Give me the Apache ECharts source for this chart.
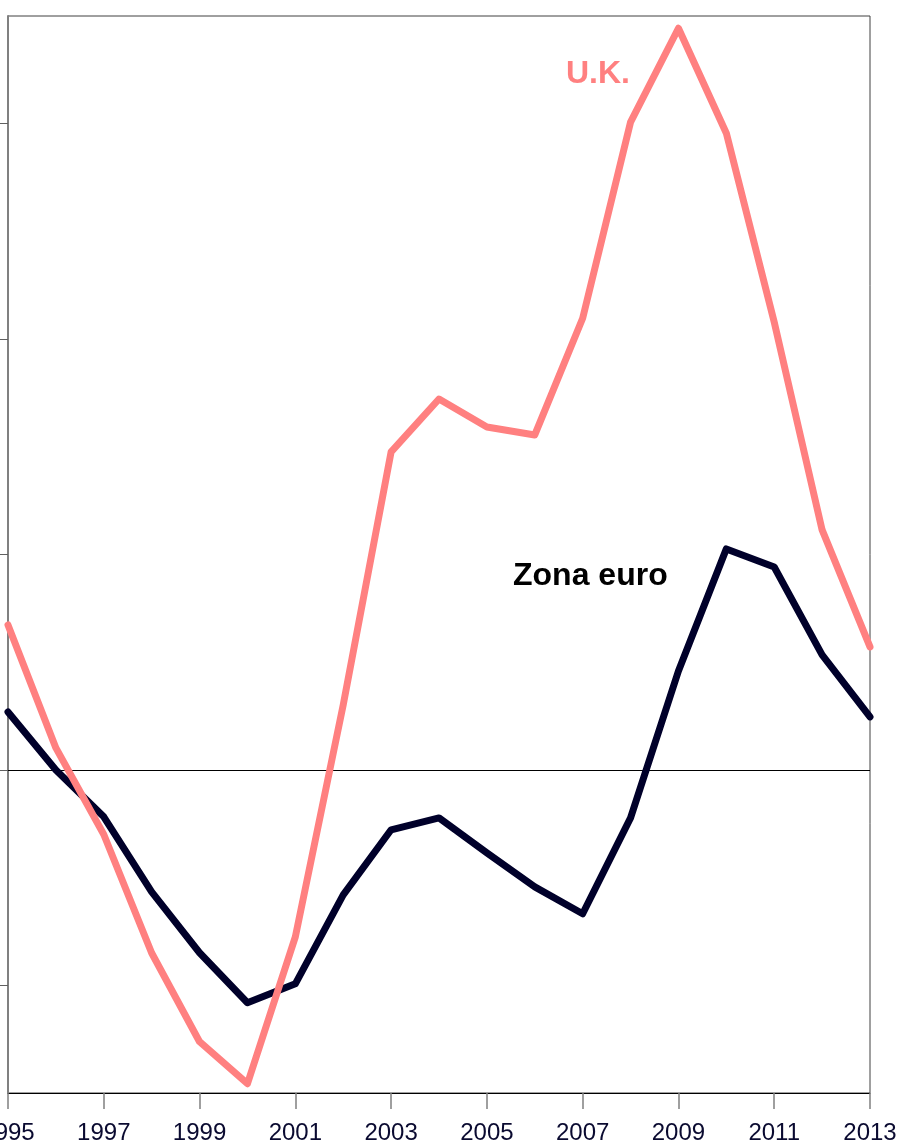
<!DOCTYPE html>
<html>
<head>
<meta charset="utf-8">
<script src="https://cdn.jsdelivr.net/npm/echarts@6/dist/echarts.min.js"></script>
<style>
html,body{margin:0;padding:0;background:#fff;}
#chart{width:898px;height:1147px;}
</style>
</head>
<body>
<div id="chart"></div>
<script>
const years = ['1995','1996','1997','1998','1999','2000','2001','2002','2003','2004','2005','2006','2007','2008','2009','2010','2011','2012','2013'];
const ukValues = [0.673, 0.102, -0.30, -0.85, -1.262, -1.457, -0.775, 0.302, 1.476, 1.722, 1.592, 1.555, 2.097, 3.007, 3.443, 2.956, 2.079, 1.114, 0.571];
const euroValues = [0.269, 0.0, -0.218, -0.566, -0.849, -1.081, -0.993, -0.58, -0.278, -0.223, -0.385, -0.543, -0.668, -0.223, 0.459, 1.026, 0.942, 0.534, 0.246];
const yTicks = [-1, 0, 1, 2, 3];
const seriesNames = ['Zona euro', 'U.K.'];

const chart = echarts.init(document.getElementById('chart'), null, {renderer: 'canvas'});
chart.setOption({
  animation: false,
  backgroundColor: '#ffffff',
  grid: {
    left: 8, right: 28, top: 16, bottom: 54,
    containLabel: false, outerBoundsMode: 'none',
    show: true, borderColor: '#404040', borderWidth: 1, backgroundColor: 'transparent'
  },
  xAxis: {
    type: 'category',
    data: years,
    boundaryGap: false,
    axisLine: {show: true, onZero: false, lineStyle: {color: '#000000', width: 1}},
    axisTick: {show: true, interval: 1, length: 16, lineStyle: {color: '#808080', width: 1.5}},
    axisLabel: {interval: 1, margin: 28, fontFamily: 'Liberation Sans, Arial, sans-serif', fontSize: 24, color: '#0a0a30', hideOverlap: false},
    splitLine: {show: false}
  },
  yAxis: {
    type: 'value',
    min: -1.5, max: 3.5,
    axisLine: {show: true, onZero: false, lineStyle: {color: '#808080', width: 2}},
    axisTick: {show: true, inside: false, length: 8, customValues: yTicks, lineStyle: {color: '#606060', width: 1}},
    axisLabel: {show: false, customValues: yTicks},
    splitLine: {show: false}
  },
  series: [
    {
      name: seriesNames[0], type: 'line', data: euroValues, symbol: 'none',
      lineStyle: {color: '#00002a', width: 7, join: 'round', cap: 'round'},
      z: 3,
      markLine: {
        silent: true, symbol: ['none', 'none'], label: {show: false},
        lineStyle: {color: '#000000', width: 1, type: 'solid'},
        data: [{yAxis: 0}], z: 1
      }
    },
    {
      name: seriesNames[1], type: 'line', data: ukValues, symbol: 'none',
      lineStyle: {color: '#ff8080', width: 7, join: 'round', cap: 'round'},
      z: 4
    }
  ],
  graphic: [
    {type: 'text', left: 566, top: 58, style: {text: 'U.K.', fill: '#ff8080', font: 'bold 32px Liberation Sans, Arial, sans-serif'}},
    {type: 'text', left: 513, top: 560, style: {text: 'Zona euro', fill: '#000000', font: 'bold 32px Liberation Sans, Arial, sans-serif'}}
  ]
});
</script>
</body>
</html>
